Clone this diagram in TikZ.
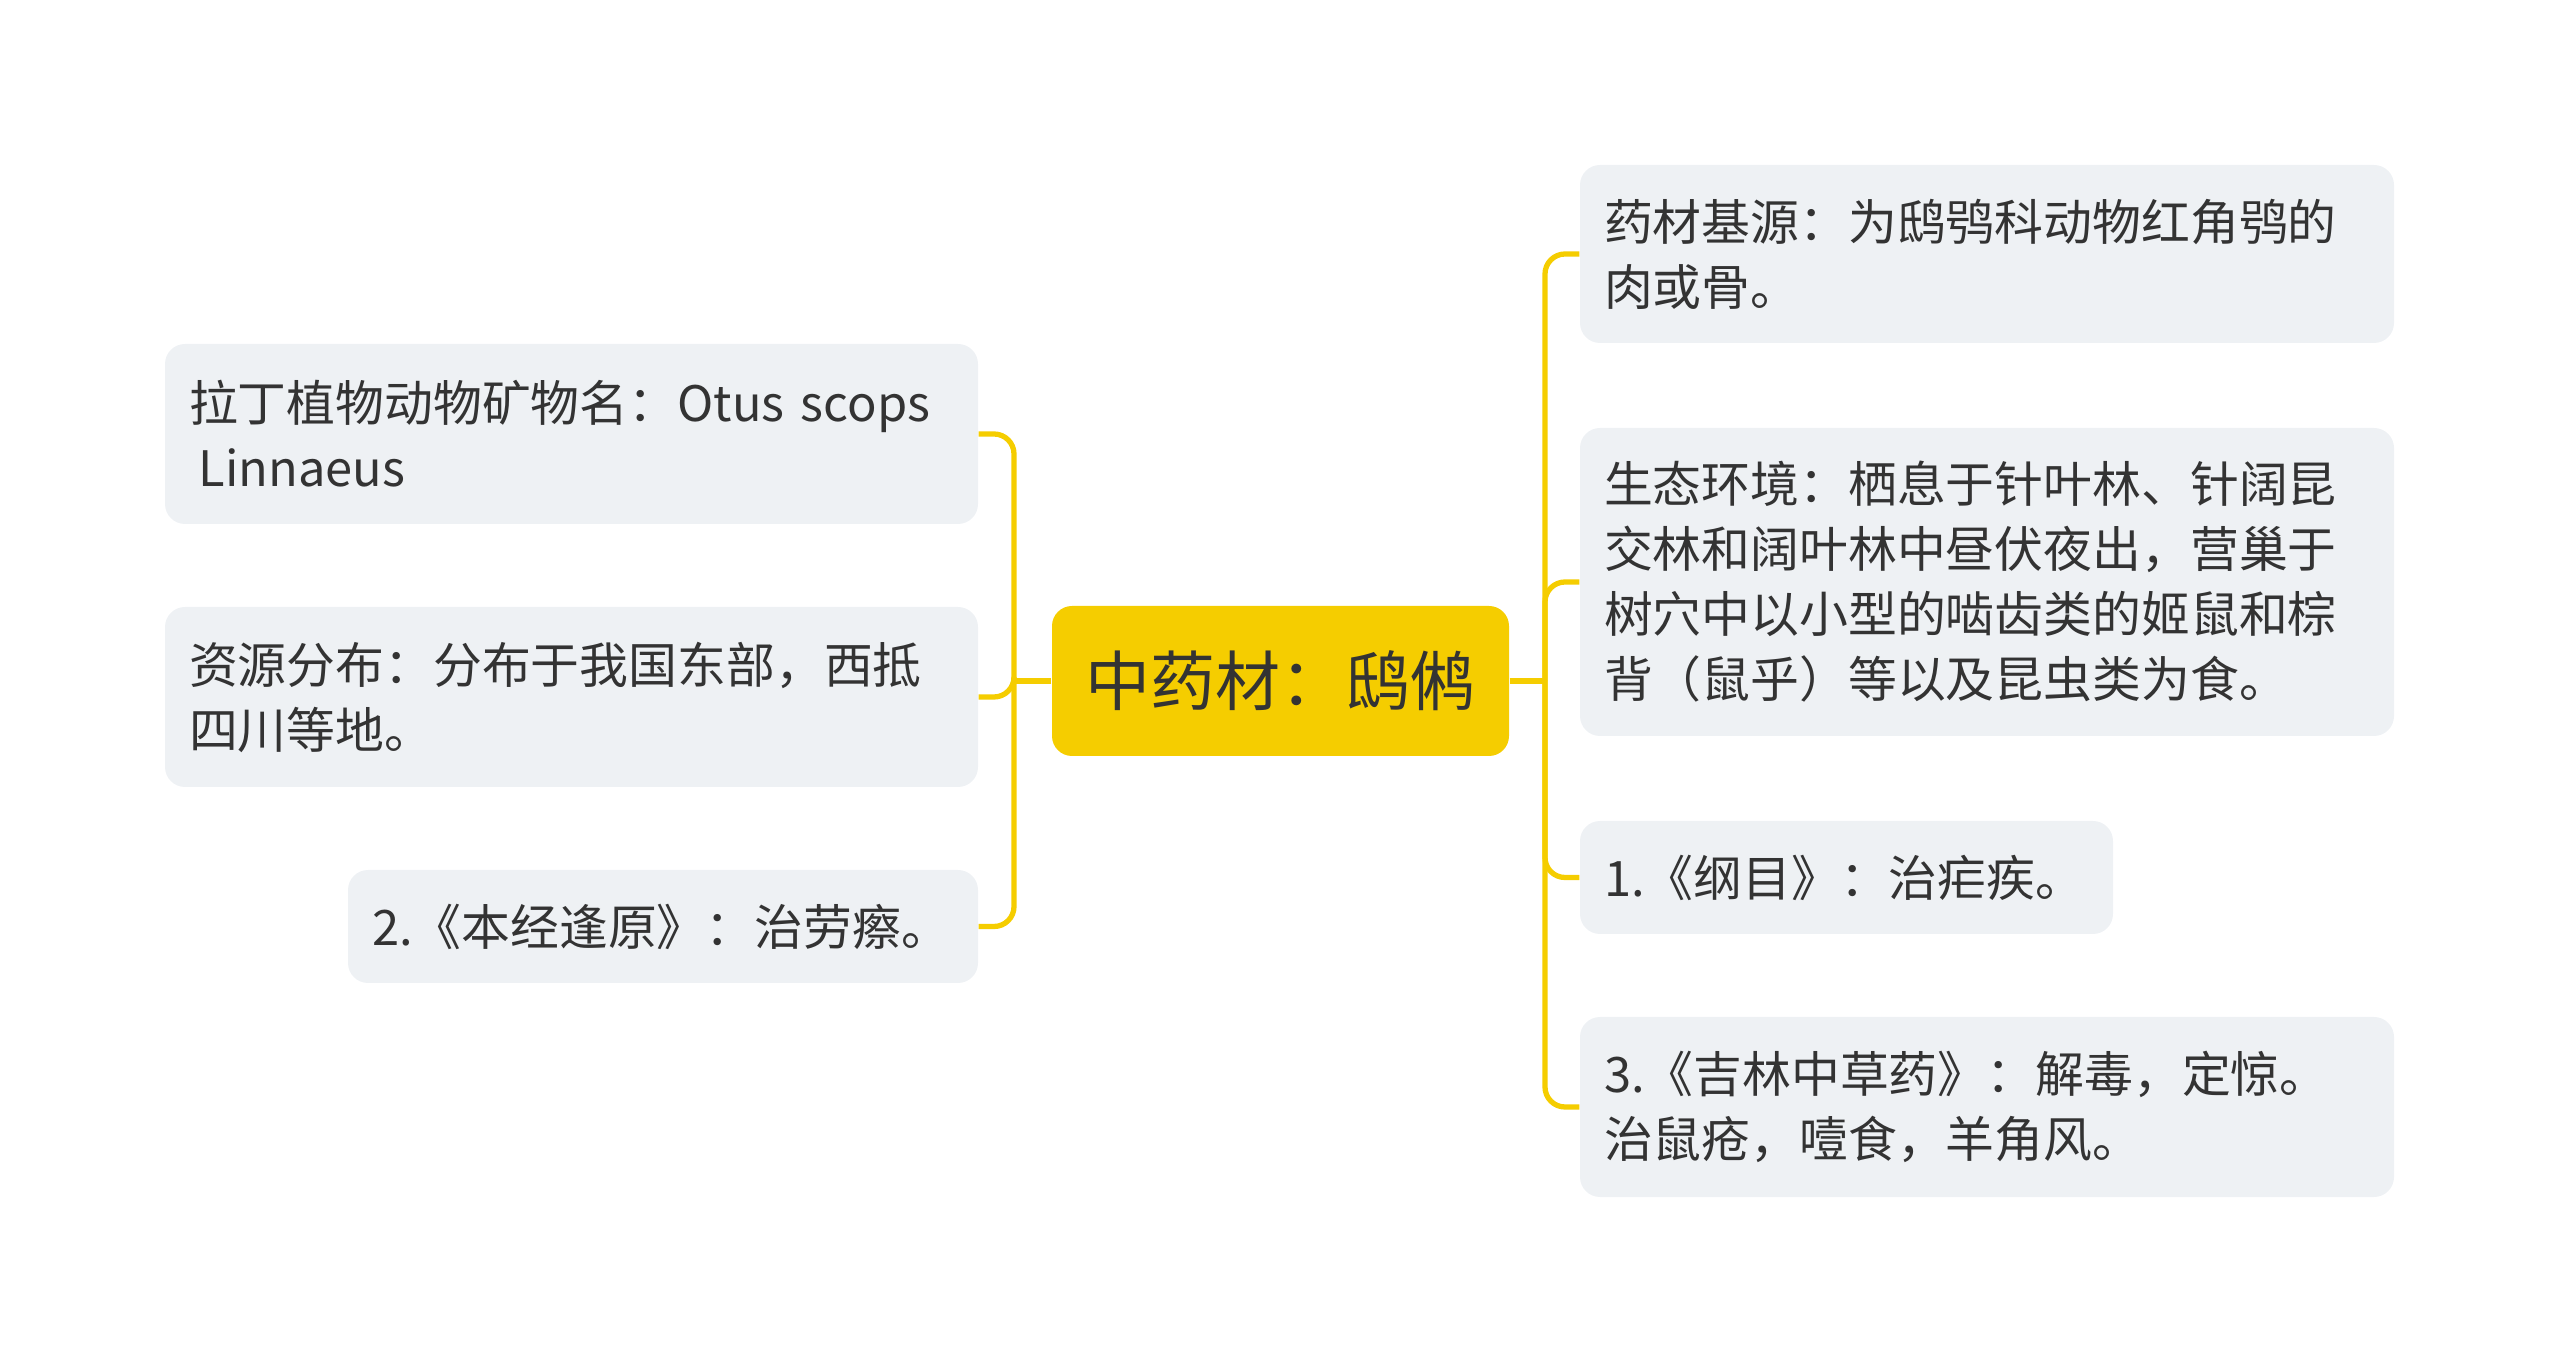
\documentclass[tikz,border=0pt]{standalone}
\usepackage{fontspec}
\setmainfont{Noto Sans CJK SC}
\definecolor{boxgray}{RGB}{238,241,244}
\definecolor{mainyellow}{RGB}{245,205,0}
\definecolor{txtgray}{RGB}{51,51,51}
\begin{document}
\begin{tikzpicture}[
            leaf/.style={rectangle, rounded corners=0.2cm, fill=boxgray, inner xsep=0.24cm, inner ysep=0pt, align=left, text=txtgray, font=\fontsize{13.9pt}{18.5pt}\selectfont},
            root/.style={rectangle, rounded corners=0.2cm, fill=mainyellow, minimum width=4.57cm, minimum height=1.5cm, text=txtgray, font=\fontsize{18.5pt}{22pt}\selectfont},
            link/.style={draw=mainyellow, line width=1.5pt, rounded corners=0.2cm},
        ]
            \useasboundingbox (0,0) rectangle (25.6,13.62);
            \node[root](center) at (12.805,6.81) {中药材：鸱鸺};
            % left side
            \node[leaf, text width=7.65cm, minimum height=1.8cm](latin) at (5.715,9.28) {拉丁植物动物矿物名：Otus scops\\\hspace{0.2em}Linnaeus};
            \node[leaf, text width=7.65cm, minimum height=1.8cm](spread) at (5.715,6.65) {资源分布：分布于我国东部，西抵\\四川等地。};
            \node[leaf, text width=5.82cm, minimum height=1.13cm](benjing) at (6.63,4.355) {2.《本经逢原》：治劳瘵。};
            % right side
            \node[leaf, text width=7.66cm, minimum height=1.78cm](origin) at (19.87,11.08) {药材基源：为鸱鸮科动物红角鸮的\\肉或骨。};
            \node[leaf, text width=7.66cm, minimum height=3.08cm](habitat) at (19.87,7.80) {生态环境：栖息于针叶林、针阔昆\\交林和阔叶林中昼伏夜出，营巢于\\树穴中以小型的啮齿类的姬鼠和棕\\背（鼠乎）等以及昆虫类为食。};
            \node[leaf, text width=4.85cm, minimum height=1.13cm](gangmu) at (18.465,4.845) {1.《纲目》：治疟疾。};
            \node[leaf, text width=7.66cm, minimum height=1.8cm](jilin) at (19.87,2.55) {3.《吉林中草药》：解毒，定惊。\\治鼠疮，噎食，羊角风。};
            \coordinate (hubL) at (10.14,6.81);
            \coordinate (hubR) at (15.45,6.81);
            \draw[link] (center.west) -- (hubL);
            \draw[link] (center.east) -- (hubR);
            \foreach \n in {latin, spread, benjing}
                \draw[link] (\n.east) -| (hubL);
            \foreach \n in {origin, habitat, gangmu, jilin}
                \draw[link] (\n.west) -| (hubR);
        \end{tikzpicture}
\end{document}
